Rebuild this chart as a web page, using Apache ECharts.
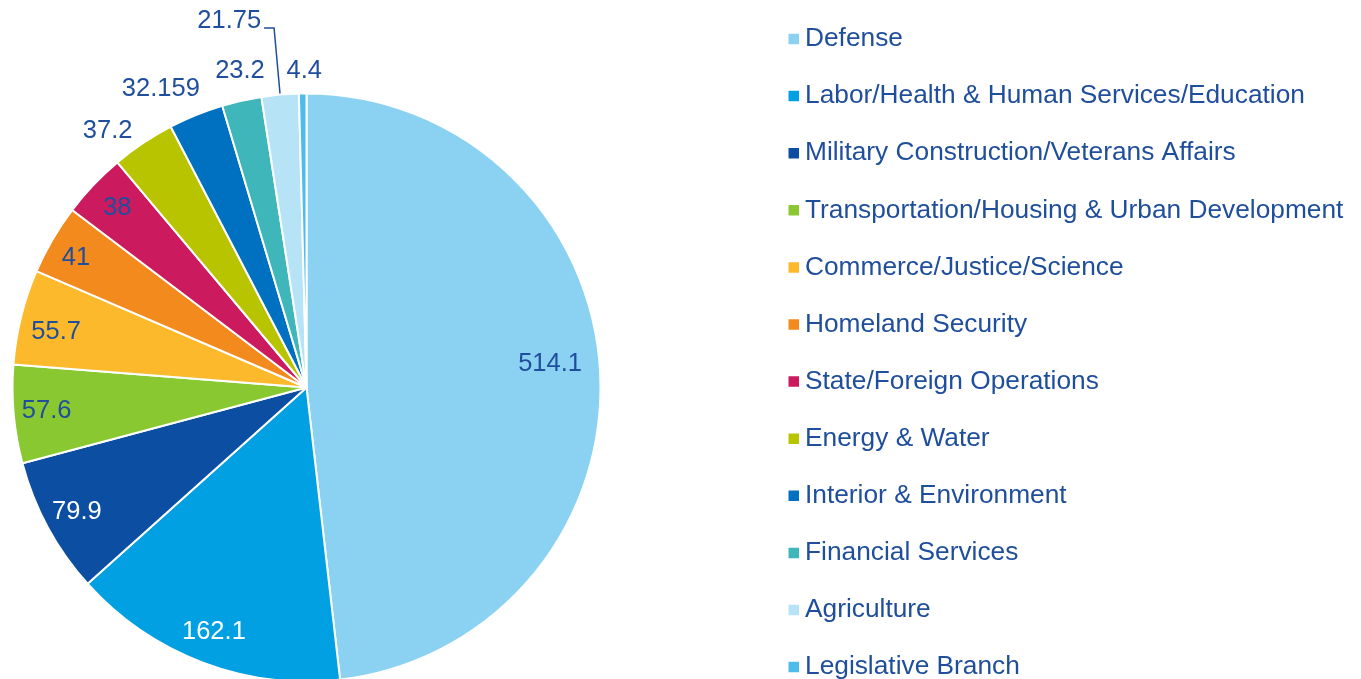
<!DOCTYPE html>
<html>
<head>
<meta charset="utf-8">
<script src="https://cdn.jsdelivr.net/npm/echarts@6/dist/echarts.min.js"></script>
<style>
  html, body { margin: 0; padding: 0; background: #fff; }
  #chart { width: 1361px; height: 679px; }
</style>
</head>
<body>
<div id="chart"></div>
<script>
// data
const categories = [
  'Defense',
  'Labor/Health & Human Services/Education',
  'Military Construction/Veterans Affairs',
  'Transportation/Housing & Urban Development',
  'Commerce/Justice/Science',
  'Homeland Security',
  'State/Foreign Operations',
  'Energy & Water',
  'Interior & Environment',
  'Financial Services',
  'Agriculture',
  'Legislative Branch'
]
const values = [514.1, 162.1, 79.9, 57.6, 55.7, 41, 38, 37.2, 32.159, 23.2, 21.75, 4.4]

const colors = [
  '#8BD1F2', '#00A0E3', '#0B4EA2', '#8AC832', '#FDB92C', '#F28A1E',
  '#CC1A5E', '#B8C400', '#0070C0', '#3EB6BA', '#B6E3F6', '#4DBCEB'
]

// which slice gets which kind of label
const insideIdx = [0, 1, 2, 3, 4, 5, 6]
const outsideIdx = [7, 8, 9, 11]
const leaderIdx = [10]
const whiteLabelIdx = [1, 2]
// small nudges so labels sit where excel put them
const labelNudge = {
  0: [-17, -9],
  4: [3, 7],
  5: [-5, 2],
  7: [-16, 17],
  8: [-22, 6],
  9: [6, 4],
  10: [2, -7],
  11: [2, 12]
}

const textBlue = '#1F4E9C'
const font = "'Liberation Sans', Arial, sans-serif"
const center = [306.5, 387.5]
const R = 294

function labelData (showIdx) {
  return values.map((v, i) => ({
    name: categories[i],
    value: v,
    label: {
      show: showIdx.indexOf(i) >= 0,
      color: whiteLabelIdx.indexOf(i) >= 0 ? '#fff' : textBlue,
      offset: labelNudge[i] || [0, 0]
    }
  }))
}

const chart = echarts.init(document.getElementById('chart'))

const options = {
  animation: false,
  color: colors,
  legend: {
    data: categories,
    orient: 'vertical',
    left: 781.5,
    top: 20,
    height: 670,
    itemWidth: 12.5,
    itemHeight: 12.5,
    itemGap: 29.1,
    itemTextGap: 6.75,
    icon: 'rect',
    selectedMode: false,
    textStyle: {
      color: textBlue,
      fontSize: 26.3,
      lineHeight: 28,
      fontFamily: font
    }
  },
  series: [
    {
      name: 'main',
      type: 'pie',
      center: center,
      radius: R,
      startAngle: 90,
      clockwise: true,
      avoidLabelOverlap: false,
      itemStyle: {
        borderColor: '#fff',
        borderWidth: 2
      },
      label: {
        show: false,
        position: 'outside',
        formatter: '{c}',
        fontSize: 25.5,
        fontFamily: font,
        color: textBlue
      },
      labelLine: {
        show: true,
        length: 67,
        length2: 10,
        smooth: false,
        lineStyle: { color: textBlue, width: 1.5 }
      },
      data: values.map((v, i) => ({
        name: categories[i],
        value: v,
        label: {
          show: leaderIdx.indexOf(i) >= 0,
          offset: labelNudge[i] || [0, 0]
        },
        labelLine: { show: leaderIdx.indexOf(i) >= 0 }
      }))
    },
    {
      name: 'inside labels',
      type: 'pie',
      center: center,
      radius: [222, R],
      silent: true,
      avoidLabelOverlap: false,
      itemStyle: { color: 'rgba(0,0,0,0)', borderWidth: 0 },
      label: {
        position: 'inside',
        formatter: '{c}',
        fontSize: 25.5,
        fontFamily: font
      },
      labelLine: { show: false },
      emphasis: { disabled: true },
      data: labelData(insideIdx)
    },
    {
      name: 'outside labels',
      type: 'pie',
      center: center,
      radius: [R, 358],
      silent: true,
      avoidLabelOverlap: false,
      itemStyle: { color: 'rgba(0,0,0,0)', borderWidth: 0 },
      label: {
        position: 'inside',
        formatter: '{c}',
        fontSize: 25.5,
        fontFamily: font
      },
      labelLine: { show: false },
      emphasis: { disabled: true },
      data: labelData(outsideIdx)
    }
  ]
}

chart.setOption(options)
</script>
</body>
</html>
